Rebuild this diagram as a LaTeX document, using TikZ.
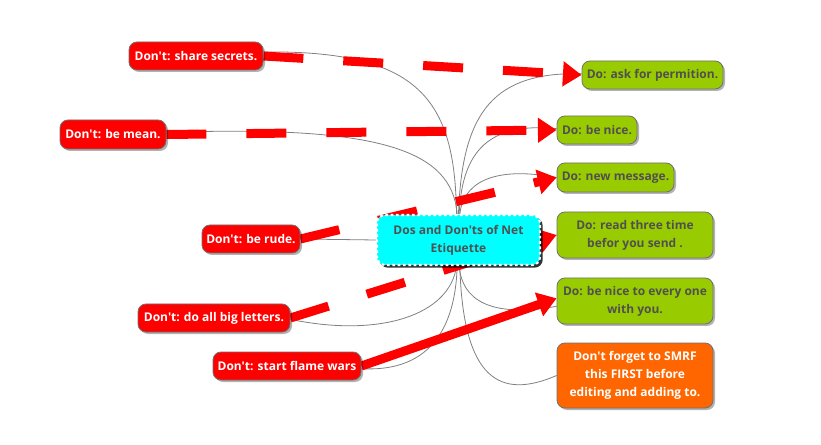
\documentclass[tikz,border=0pt]{standalone}
\usepackage{fontspec}
\setmainfont{Open Sans}[Ligatures=TeXOff]
\usetikzlibrary{arrows.meta,shadows,backgrounds}
\definecolor{dored}{HTML}{FF0000}
\definecolor{dogreen}{HTML}{99CC00}
\definecolor{doorange}{HTML}{FF6600}
\definecolor{dotext}{HTML}{505050}
\definecolor{dcyan}{HTML}{00FFFF}
\definecolor{bordergray}{HTML}{707070}
\definecolor{thingray}{HTML}{808080}
\tikzset{
  x=0.75pt, y=-0.75pt,
  base/.style={rounded corners=6pt, inner sep=0pt, align=center,
    font=\bfseries\fontsize{9}{13.5}\selectfont,
    drop shadow={shadow xshift=1.5pt, shadow yshift=-1.5pt, fill=black, opacity=0.3}},
  dont/.style={base, fill=dored, draw=bordergray, line width=0.6pt, text=white},
  dobox/.style={base, fill=dogreen, draw=bordergray, line width=0.6pt, text=dotext},
  note/.style={base, fill=doorange, draw=bordergray, line width=0.6pt, text=white},
  central/.style={rounded corners=6pt, inner sep=0pt, align=center,
    font=\bfseries\fontsize{9}{13.5}\selectfont, text=dotext, fill=dcyan,
    draw=white, line width=1.6pt, dash pattern=on 2pt off 2pt,
    drop shadow={shadow xshift=2pt, shadow yshift=-2pt, fill=black, opacity=0.8}},
  thin/.style={draw=thingray, line width=0.6pt},
  redarrow/.style={draw=dored, line width=6.75pt, line cap=butt,
    -{Triangle[length=14pt, width=18pt]}},
  reddash/.style={redarrow, dash pattern=on 30pt off 30pt}
}
\begin{document}
\begin{tikzpicture}
\useasboundingbox (0,0) rectangle (821,445);

\node[central, minimum width=122.25pt, minimum height=37.5pt] (c) at (458.5,240) {Dos and Don't{}s of Net\\Etiquette};

\node[dont, minimum width=100.5pt, minimum height=21pt] (ss) at (196,56) {Don't: share secrets.};
\node[dont, minimum width=79.5pt, minimum height=21.75pt] (mean) at (113,134.5) {Don't: be mean.};
\node[dont, minimum width=73.5pt, minimum height=21pt] (rude) at (251,239) {Don't: be rude.};
\node[dont, minimum width=114pt, minimum height=21pt] (big) at (214,318) {Don't: do all big letters.};
\node[dont, minimum width=111pt, minimum height=21pt] (flame) at (287,366) {Don't: start flame wars};

\node[dobox, minimum width=105.75pt, minimum height=21pt] (ask) at (652.5,75) {Do: ask for permition.};
\node[dobox, minimum width=60pt, minimum height=21pt] (nice) at (597,130) {Do: be nice.};
\node[dobox, minimum width=87.75pt, minimum height=21.75pt] (msg) at (615.5,177.5) {Do: new message.};
\node[dobox, minimum width=117pt, minimum height=34.5pt] (read) at (635,235) {Do: read three time\\befor you send .};
\node[dobox, minimum width=117pt, minimum height=34.5pt] (every) at (635,301) {Do: be nice to every one\\with you.};
\node[note, minimum width=117pt, minimum height=48.75pt] (forget) at (635,375.5) {Don't forget to SMRF\\this FIRST before\\editing and adding to.};

\begin{scope}[on background layer]
  % thin connectors
  \draw[thin] ([xshift=-1.5pt]c.north) .. controls (455,100) and (420,50) .. ([yshift=3pt]ss.east);
  \draw[thin] ([xshift=-1pt]c.north) .. controls (452,150) and (380,125) .. ([yshift=1.5pt]mean.east);
  \draw[thin] ([xshift=0pt]c.north) .. controls (462,110) and (495,72) .. ([yshift=1pt]ask.west);
  \draw[thin] ([xshift=0.5pt]c.north) .. controls (462,150) and (490,122) .. ([yshift=1pt]nice.west);
  \draw[thin] ([xshift=1pt]c.north) .. controls (463,185) and (490,165) .. (msg.west);
  \draw[thin] (rude.east) -- (c.west);
  \draw[thin] (c.east) -- (read.west);
  \draw[thin] ([xshift=-1.5pt]c.south) .. controls (450,315) and (380,338) .. ([yshift=-1pt]big.east);
  \draw[thin] ([xshift=-1pt]c.south) .. controls (455,340) and (420,372) .. ([yshift=-2pt]flame.east);
  \draw[thin] ([xshift=0.5pt]c.south) .. controls (462,300) and (490,318) .. ([yshift=-4pt]every.west);
  \draw[thin] ([xshift=1pt]c.south) .. controls (463,380) and (500,400) .. (forget.west);
  % red arrows
  \draw[reddash] (ss.east) -- (ask.west);
  \draw[reddash] (mean.east) -- (nice.west);
  \draw[reddash] (rude.east) -- (msg.west);
  \draw[reddash] (big.east) -- (read.west);
  \draw[redarrow] (flame.east) -- ([yshift=2pt]every.west);
\end{scope}
\end{tikzpicture}
\end{document}
